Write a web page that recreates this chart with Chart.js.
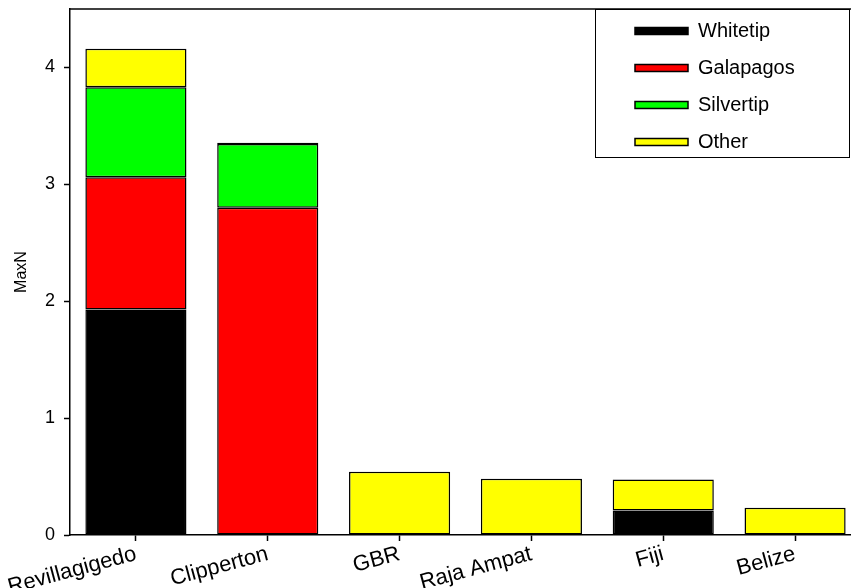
<!DOCTYPE html>
<html>
<head>
<meta charset="utf-8">
<script src="https://cdn.jsdelivr.net/npm/chart.js@4/dist/chart.umd.min.js"></script>
<style>
  html, body { margin: 0; padding: 0; background: #fff; overflow: hidden; }
  #wrap { width: 861px; height: 588px; }
</style>
</head>
<body>
<div id="wrap"><canvas id="chart" width="861" height="588"></canvas></div>
<script>
(function () {
    "use strict";

    // Data
    const sites = ["Revillagigedo", "Clipperton", "GBR", "Raja Ampat", "Fiji", "Belize"];
    const whitetip = [1.93, null, null, null, 0.21, null];
    const galapagos = [1.13, 2.8, null, null, null, null];
    const silvertip = [0.77, 0.545, null, null, null, null];
    const other = [0.33, 0.01, 0.542, 0.482, 0.265, 0.234];
    const yTicks = [0, 1, 2, 3, 4];

    Chart.defaults.font.family = "'Liberation Sans', Arial, sans-serif";
    Chart.defaults.color = "#000";

    function series(label, data, color) {
        return {
            label: label,
            data: data,
            backgroundColor: color,
            borderColor: "#000",
            borderWidth: 1.5,
            borderSkipped: false,
            barPercentage: 0.767,
            categoryPercentage: 1,
        };
    }

    function noPadding(scale) {
        scale.paddingTop = 0;
        scale.paddingBottom = 0;
        scale.paddingLeft = 0;
        scale.paddingRight = 0;
    }

    // frame line on top of plot + legend box placed inside the plot
    const frame = {
        id: "frame",
        afterLayout(chart) {
            const lg = chart.legend;
            lg.left = 618;
            lg.right = 851;
            lg.top = 4;
            lg.bottom = chart.chartArea.bottom;
        },
        afterDraw(chart) {
            const ctx = chart.ctx;
            const a = chart.chartArea;
            const lg = chart.legend;
            ctx.save();
            ctx.strokeStyle = "#000";
            ctx.lineWidth = 1.5;
            ctx.beginPath();
            ctx.moveTo(a.left, a.top);
            ctx.lineTo(a.right, a.top);
            ctx.stroke();
            ctx.lineWidth = 1;
            ctx.strokeRect(lg.left - 22.5, a.top + 0.5, 254, 148);
            ctx.restore();
        },
    };

    const ctx = document.getElementById("chart").getContext("2d");
    new Chart(ctx, {
        type: "bar",
        data: {
            labels: sites,
            datasets: [
                series("Whitetip", whitetip, "#000000"),
                series("Galapagos", galapagos, "#ff0000"),
                series("Silvertip", silvertip, "#00ff00"),
                series("Other", other, "#ffff00"),
            ],
        },
        options: {
            responsive: false,
            animation: false,
            layout: {
                autoPadding: false,
                padding: { top: 9, left: 0, right: 0, bottom: 0 },
            },
            plugins: {
                legend: {
                    position: "chartArea",
                    align: "start",
                    labels: {
                        boxWidth: 53,
                        boxHeight: 7,
                        padding: 17,
                        font: { size: 20 },
                        color: "#000",
                    },
                },
                tooltip: { enabled: false },
            },
            scales: {
                x: {
                    stacked: true,
                    offset: true,
                    afterFit(scale) {
                        scale.height = 53;
                        noPadding(scale);
                    },
                    grid: {
                        offset: false,
                        drawOnChartArea: false,
                        drawTicks: true,
                        tickLength: 6,
                        tickWidth: 1.5,
                        tickColor: "#000",
                    },
                    border: { display: true, color: "#000", width: 1.5 },
                    ticks: {
                        minRotation: 15,
                        maxRotation: 15,
                        autoSkip: false,
                        padding: 0,
                        font: { size: 22 },
                        color: "#000",
                    },
                },
                y: {
                    stacked: true,
                    min: 0,
                    max: 4.5,
                    afterFit(scale) {
                        scale.width = 70;
                        noPadding(scale);
                    },
                    afterBuildTicks(scale) {
                        scale.ticks = yTicks.map((v) => ({ value: v }));
                    },
                    grid: {
                        drawOnChartArea: false,
                        drawTicks: true,
                        tickLength: 6,
                        tickWidth: 1.5,
                        tickColor: "#000",
                    },
                    border: { display: true, color: "#000", width: 1.5 },
                    ticks: {
                        padding: 9,
                        font: { size: 18 },
                        color: "#000",
                    },
                    title: {
                        display: true,
                        text: "MaxN",
                        font: { size: 16 },
                        color: "#000",
                        padding: { top: 12, bottom: 0 },
                    },
                },
            },
        },
        plugins: [frame],
    });
})();
</script>
</body>
</html>
